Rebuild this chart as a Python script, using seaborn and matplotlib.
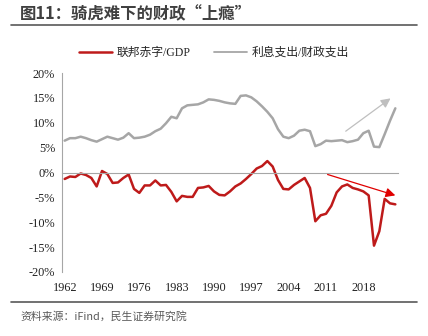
import numpy as np
import pandas as pd
import seaborn as sns
import matplotlib
matplotlib.use("Agg")
import matplotlib.pyplot as plt
from matplotlib.lines import Line2D

years = list(range(1962, 2025))
deficit_gdp = [-1.3, -0.8, -0.9, -0.2, -0.5, -1.1, -2.8, 0.3, -0.3, -2.1,
               -2.0, -1.1, -0.4, -3.3, -4.1, -2.6, -2.6, -1.6, -2.6, -2.5,
               -3.9, -5.8, -4.7, -4.9, -4.9, -3.1, -3.0, -2.7, -3.8, -4.5,
               -4.6, -3.8, -2.8, -2.2, -1.3, -0.3, 0.8, 1.3, 2.3, 1.2,
               -1.5, -3.3, -3.4, -2.5, -1.8, -1.1, -3.1, -9.8, -8.6, -8.3,
               -6.7, -4.0, -2.8, -2.4, -3.1, -3.4, -3.8, -4.6, -14.7, -11.8,
               -5.3, -6.2, -6.4]
interest_exp = [6.4, 6.9, 6.9, 7.2, 6.9, 6.5, 6.2, 6.7, 7.2, 6.9,
                6.6, 7.0, 7.9, 6.9, 7.0, 7.2, 7.6, 8.3, 8.8, 9.9,
                11.2, 10.9, 12.9, 13.5, 13.6, 13.7, 14.1, 14.7, 14.6, 14.4,
                14.1, 13.9, 13.8, 15.4, 15.5, 15.1, 14.3, 13.3, 12.2, 10.9,
                8.7, 7.2, 6.9, 7.4, 8.4, 8.6, 8.3, 5.3, 5.7, 6.4,
                6.3, 6.4, 6.5, 6.1, 6.3, 6.6, 7.9, 8.4, 5.2, 5.1,
                7.7, 10.4, 12.9]
series_names = ["联邦赤字/GDP", "利息支出/财政支出"]
x_labels = list(range(1962, 2025, 7))
y_ticks = list(range(-20, 25, 5))

title = "图11：骑虎难下的财政“上瘾”"
source = "资料来源：iFind，民生证券研究院"

RED = "#BE1A1A"
GRAY = "#A6A6A6"

df = pd.DataFrame({
    "year": years * 2,
    "value": deficit_gdp + interest_exp,
    "series": [series_names[0]] * len(years) + [series_names[1]] * len(years),
})

sns.set_style("white")
plt.rcParams["font.family"] = ["Liberation Serif", "Noto Sans CJK SC"]
plt.rcParams["axes.unicode_minus"] = False

fig = plt.figure(figsize=(4.28, 3.36), dpi=100)
ax = fig.add_axes([62 / 428, 1 - 272 / 336, (398 - 62) / 428, (272 - 73) / 336])

sns.lineplot(data=df, x="year", y="value", hue="series",
             palette={series_names[0]: RED, series_names[1]: GRAY},
             linewidth=1.8, ax=ax, legend=False)

ax.set_xlim(1961.5, 2024.5)
ax.set_ylim(-20, 20)
ax.set_xlabel("")
ax.set_ylabel("")

# y axis
ax.set_yticks(y_ticks)
ax.set_yticklabels([f"{v}%" for v in y_ticks], fontsize=8.8, color="#222222")
for s in ["top", "right"]:
    ax.spines[s].set_visible(False)
ax.spines["left"].set_color("#A6A6A6")
ax.spines["left"].set_linewidth(0.8)
ax.tick_params(axis="y", direction="out", length=3, color="#A6A6A6", width=0.8, pad=2)

# x axis line at zero with boundary ticks
ax.spines["bottom"].set_position(("data", 0))
ax.spines["bottom"].set_color("#A6A6A6")
ax.spines["bottom"].set_linewidth(0.8)
ax.set_xticks([1961.5 + 7 * k for k in range(10)])
ax.set_xticklabels([])
ax.tick_params(axis="x", direction="out", length=4, color="#A6A6A6", width=0.8)

sec = ax.secondary_xaxis(-0.0)
sec.set_xticks(x_labels)
sec.set_xticklabels([str(v) for v in x_labels], fontsize=8.8, color="#222222")
sec.tick_params(length=0, pad=7)
sec.spines["bottom"].set_visible(False)

# trend arrows
gray_arrow = ((2014.7, 8.3), (2023.1, 14.9))
red_arrow = ((2011.3, -0.4), (2024.0, -4.6))
ax.annotate("", xy=gray_arrow[1], xytext=gray_arrow[0],
            arrowprops=dict(arrowstyle="-|>", color="#BFBFBF", lw=0.9,
                            mutation_scale=14, shrinkA=0, shrinkB=0))
ax.annotate("", xy=red_arrow[1], xytext=red_arrow[0],
            arrowprops=dict(arrowstyle="-|>", color="#E00000", lw=0.9,
                            mutation_scale=14, shrinkA=0, shrinkB=0))

# legend
handles = [Line2D([], [], color=RED, lw=1.8), Line2D([], [], color=GRAY, lw=1.3)]
fig.legend(handles, series_names, loc="center", bbox_to_anchor=(0.5, 1 - 53 / 336),
           ncol=2, frameon=False, fontsize=8.5, handlelength=2.8,
           columnspacing=2.0, handletextpad=0.4)

# title and source
fig.text(20 / 428, 1 - 14 / 336, title, fontsize=11.8, fontweight="bold",
         color="#404040", va="center", ha="left",
         family=["Noto Sans CJK SC", "DejaVu Sans"])
fig.add_artist(Line2D([11 / 428, 417 / 428], [1 - 24.5 / 336] * 2,
                      color="#595959", lw=1.2, transform=fig.transFigure))
fig.add_artist(Line2D([11 / 428, 417 / 428], [1 - 302 / 336] * 2,
                      color="#595959", lw=1.2, transform=fig.transFigure))
fig.text(20 / 428, 1 - 316 / 336, source, fontsize=7.8, color="#595959",
         va="center", ha="left", family=["Noto Sans CJK SC", "DejaVu Sans"])

fig.savefig("out.png", dpi=100, facecolor="white")
